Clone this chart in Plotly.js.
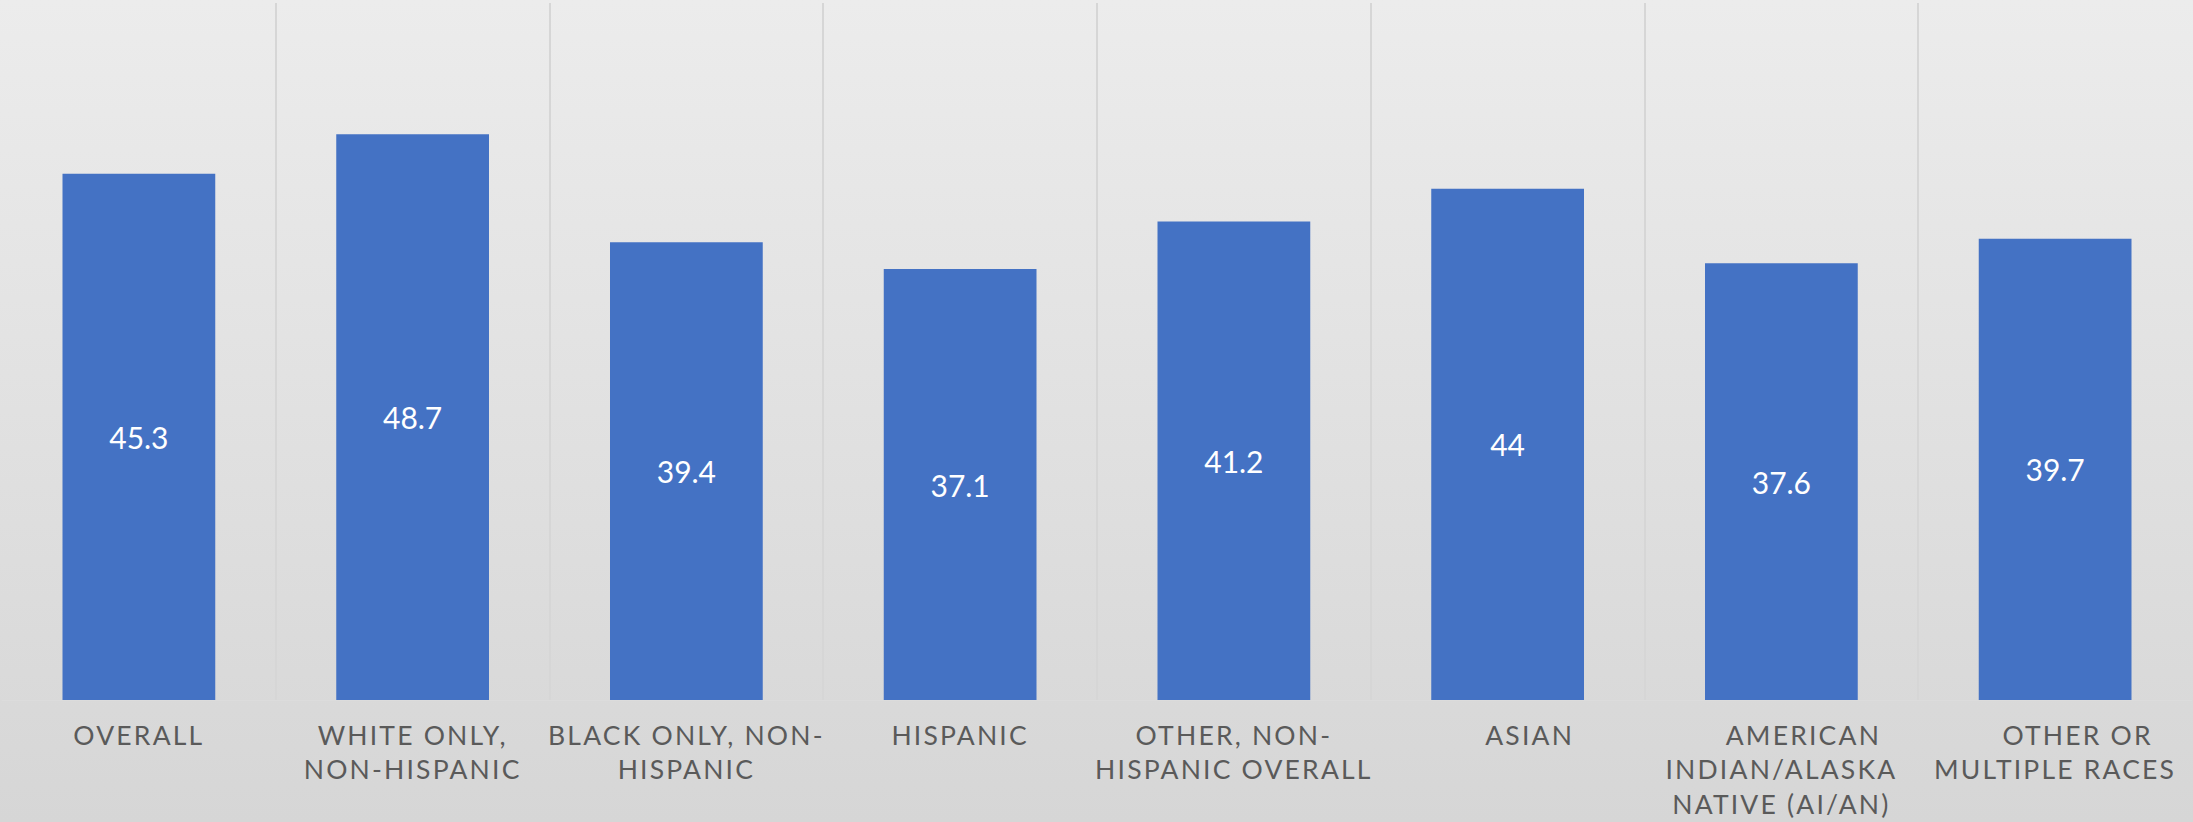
<!DOCTYPE html>
<html>
<head>
<meta charset="utf-8">
<script src="https://cdn.plot.ly/plotly-3.0.1.min.js"></script>
<style>
  html, body { margin: 0; padding: 0; }
  #chart {
    width: 2193px; height: 822px;
    background: linear-gradient(to bottom, #ececec 0%, #d6d6d6 100%);
  }
  .xtick text, .xtick tspan { letter-spacing: 2.2px; }
</style>
</head>
<body>
<div id="chart"></div>
<script>
// Data
const categories = [
  "Overall",
  "White only, non-Hispanic",
  "Black only, non-Hispanic",
  "Hispanic",
  "Other, non-Hispanic overall",
  "Asian",
  "American Indian/Alaska Native (AI/AN)",
  "Other or multiple races"
];
const values = [45.3, 48.7, 39.4, 37.1, 41.2, 44, 37.6, 39.7];
// subcategories of "Other, non-Hispanic" are indented in the source labels
const tickLabels = [
  "OVERALL",
  "WHITE ONLY,<br>NON-HISPANIC",
  "BLACK ONLY, NON-<br>HISPANIC",
  "HISPANIC",
  "OTHER, NON-<br>HISPANIC OVERALL",
  "\u00A0\u00A0\u00A0\u00A0\u00A0ASIAN",
  "\u00A0\u00A0\u00A0\u00A0\u00A0AMERICAN<br>INDIAN/ALASKA<br>NATIVE (AI/AN)",
  "\u00A0\u00A0\u00A0\u00A0\u00A0OTHER OR<br>MULTIPLE RACES"
];

const trace = {
  type: "bar",
  x: categories,
  y: values,
  marker: { color: "#4472c4", line: { width: 0 } },
  text: values.map(v => String(v)),
  texttemplate: "%{text}",
  textposition: "inside",
  insidetextanchor: "middle",
  textangle: 0,
  constraintext: "none",
  insidetextfont: { family: "Lato, 'Open Sans', sans-serif", size: 30, color: "#ffffff" },
  hoverinfo: "none"
};

const layout = {
  width: 2193,
  height: 822,
  margin: { l: 2, r: 1, t: 3, b: 122, pad: 0 },
  paper_bgcolor: "rgba(0,0,0,0)",
  plot_bgcolor: "rgba(0,0,0,0)",
  bargap: 0.442,
  showlegend: false,
  xaxis: {
    type: "category",
    tickvals: categories,
    ticktext: tickLabels,
    tickson: "boundaries",
    ticks: "",
    showgrid: true,
    gridcolor: "#d6d6d6",
    gridwidth: 2,
    showline: true,
    linecolor: "#dcdcdc",
    linewidth: 1,
    zeroline: false,
    tickangle: 0,
    automargin: false,
    ticklabelstandoff: 12,
    tickfont: { family: "Lato, 'Open Sans', sans-serif", size: 26.5, color: "#5a5a5a" },
    fixedrange: true
  },
  yaxis: {
    range: [0, 60],
    showgrid: false,
    zeroline: false,
    showline: false,
    showticklabels: false,
    ticks: "",
    automargin: false,
    fixedrange: true
  }
};

Plotly.newPlot("chart", [trace], layout, { displayModeBar: false, staticPlot: true });
</script>
</body>
</html>
